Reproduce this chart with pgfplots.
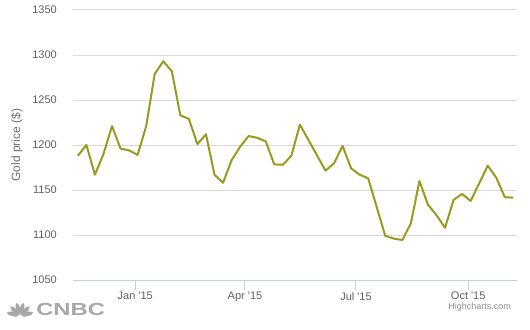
\documentclass[border=0pt]{standalone}
\usepackage{pgfplots}
\pgfplotsset{compat=1.18}
\usepackage{fontspec}
\setmainfont{Liberation Sans}
\definecolor{goldline}{HTML}{9A9A1E}
\definecolor{gridc}{HTML}{D8D8D8}
\definecolor{axisc}{HTML}{C0D0E0}
\definecolor{tickc}{HTML}{606060}
\definecolor{titlec}{HTML}{707070}
\definecolor{logoc}{HTML}{A8A8A8}
\begin{document}
\begin{tikzpicture}[x=1bp,y=1bp]
\path[use as bounding box] (0,0) rectangle (530,329);
\begin{axis}[
  at={(73bp,49bp)}, anchor=south west,
  scale only axis, width=444bp, height=270bp,
  xmin=-51, xmax=313, ymin=1050, ymax=1350,
  ytick={1050,1100,...,1350},
  xtick={0,90,181,273},
  xticklabels={Jan \textquotesingle15, Apr \textquotesingle15, Jul \textquotesingle15, Oct \textquotesingle15},
  axis x line*=bottom, axis y line*=left,
  x axis line style={draw=axisc,-, line width=1bp},
  y axis line style={draw=none},
  ymajorgrids, grid style={draw=gridc, line width=1bp},
  tick align=outside,
  xtick style={draw=axisc, line width=1bp},
  ytick style={draw=none},
  major tick length=10bp,
  /pgf/number format/assume math mode=true,
  /pgf/number format/1000 sep={},
  tick label style={font=\fontsize{11bp}{13bp}\selectfont, text=tickc},
  yticklabel style={anchor=east, inner sep=0pt, xshift=-6bp},
  xticklabel style={anchor=north, inner sep=0pt, yshift=-2bp},
  ylabel={Gold price (\$)},
  ylabel style={at={(axis description cs:-0.126,0.5)}, anchor=center, rotate=0, font=\fontsize{12bp}{14bp}\selectfont, text=titlec},
  clip=false,
]
\addplot[goldline, line width=2bp, line join=round, no markers] coordinates {
(-47,1188) (-40,1200) (-33,1167) (-26,1190) (-19,1221) (-12,1196) (-5,1194) (2,1189)
(9,1221) (16,1279) (23,1293) (30,1282) (37,1233) (44,1229) (51,1201) (58,1212)
(65,1167) (72,1158) (79,1183) (86,1198) (93,1210) (100,1208) (107,1204) (114,1178.5)
(121,1178) (128,1188) (135,1222.6) (142,1205.6) (149,1188.5) (156,1171.5) (163,1179.6) (170,1199)
(177,1174) (184,1167) (191,1163) (198,1131) (205,1099) (212,1096) (219,1094.4) (226,1113)
(233,1160) (240,1133.7) (247,1122) (254,1108) (261,1139) (268,1145.6) (275,1137.8) (282,1157.4)
(289,1177) (296,1163.7) (303,1142) (310,1141.5)
};
\end{axis}
% CNBC logo
\begin{scope}[shift={(20,13)}, logoc]
\foreach \a in {15,45,75,105,135,165} {
  \fill[rotate=\a] (7.5,0) ellipse (6 and 2.1);
}
\end{scope}
\node[anchor=west, inner sep=0pt, text=logoc, xscale=1.36, font=\fontsize{17.5bp}{17.5bp}\selectfont\bfseries] at (36,19.5) {CNBC};
\node[anchor=east, inner sep=0pt, text=titlec!80, font=\fontsize{9bp}{11bp}\selectfont] at (511,21.5) {Highcharts.com};
\end{tikzpicture}
\end{document}
